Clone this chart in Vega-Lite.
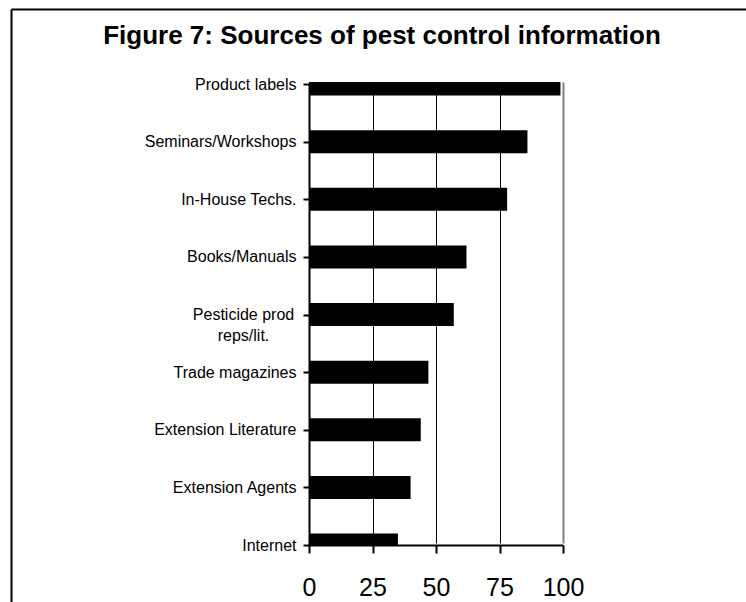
{
  "$schema": "https://vega.github.io/schema/vega-lite/v6.json",
  "autosize": "none",
  "width": 254,
  "height": 463,
  "padding": {"left": 309, "top": 82, "right": 183, "bottom": 57},
  "background": "white",
  "title": {
    "text": "Figure 7: Sources of pest control information",
    "font": "Liberation Sans",
    "fontSize": 26,
    "fontWeight": "bold",
    "color": "black",
    "anchor": "middle",
    "frame": "group",
    "baseline": "alphabetic",
    "offset": 0,
    "dx": -54,
    "dy": 64
  },
  "config": {
    "view": {"stroke": null},
    "font": "Liberation Sans"
  },
  "data": {
    "values": [
      {"source": "Product labels", "value": 99},
      {"source": "Seminars/Workshops", "value": 86},
      {"source": "In-House Techs.", "value": 78},
      {"source": "Books/Manuals", "value": 62},
      {"source": "Pesticide prod reps/lit.", "value": 57},
      {"source": "Trade magazines", "value": 47},
      {"source": "Extension Literature", "value": 44},
      {"source": "Extension Agents", "value": 40},
      {"source": "Internet", "value": 35}
    ]
  },
  "layer": [
    {
      "mark": {"type": "bar", "color": "black", "size": 23, "clip": true},
      "encoding": {
        "x": {
          "field": "value",
          "type": "quantitative",
          "scale": {"domain": [0, 100], "nice": false},
          "axis": {
            "title": null,
            "values": [0, 25, 50, 75, 100],
            "labelFontSize": 25,
            "labelColor": "black",
            "labelPadding": 22,
            "labelFlush": false,
            "labelOverlap": false,
            "tickSize": 8,
            "tickWidth": 2,
            "tickColor": "black",
            "domainColor": "black",
            "domainWidth": 2,
            "grid": true,
            "gridOpacity": 1,
            "gridColor": {"condition": {"test": "datum.value == 100", "value": "#808080"}, "value": "black"},
            "gridWidth": {"condition": {"test": "datum.value == 100", "value": 2}, "value": 1}
          }
        },
        "y": {
          "field": "source",
          "type": "nominal",
          "sort": null,
          "scale": {"type": "point", "range": [2, 463], "padding": 0},
          "axis": {
            "title": null,
            "labelFontSize": 16,
            "labelColor": "black",
            "labelLineHeight": 21,
            "labelExpr": "datum.value == 'Pesticide prod reps/lit.' ? ['Pesticide prod', 'reps/lit.'] : datum.value",
            "labelAlign": {"condition": {"test": "datum.value == 'Pesticide prod reps/lit.'", "value": "center"}, "value": "right"},
            "labelPadding": {"condition": {"test": "datum.value == 'Pesticide prod reps/lit.'", "value": 60}, "value": 7},
            "labelOverlap": false,
            "tickSize": 6,
            "tickWidth": 2,
            "tickColor": "black",
            "domainColor": "black",
            "domainWidth": 2,
            "grid": false
          }
        }
      }
    },
    {
      "mark": {"type": "point", "opacity": 0},
      "encoding": {
        "x": {
          "field": "value",
          "type": "quantitative",
          "scale": {"domain": [0, 100], "nice": false, "range": [-298, 800]},
          "axis": {
            "orient": "top",
            "offset": 73,
            "title": null,
            "labels": false,
            "ticks": false,
            "grid": false,
            "domain": true,
            "domainColor": "black",
            "domainWidth": 2
          }
        },
        "y": {
          "field": "source",
          "type": "nominal",
          "sort": null,
          "scale": {"type": "point", "range": [-73, 700], "padding": 0},
          "axis": {
            "orient": "left",
            "offset": 298,
            "title": null,
            "labels": false,
            "ticks": false,
            "grid": false,
            "domain": true,
            "domainColor": "black",
            "domainWidth": 2
          }
        }
      }
    }
  ],
  "resolve": {"scale": {"x": "independent", "y": "independent"}, "axis": {"x": "independent", "y": "independent"}}
}
